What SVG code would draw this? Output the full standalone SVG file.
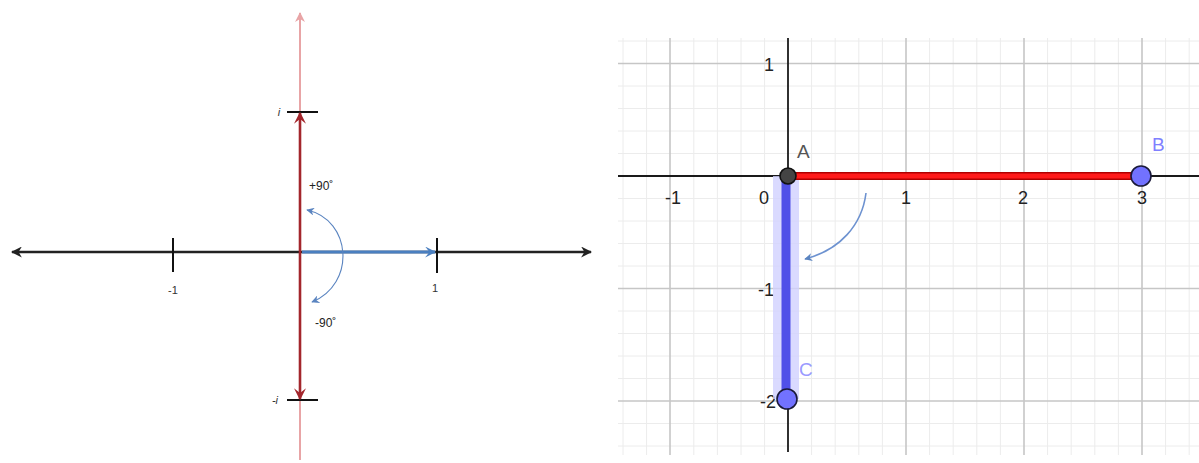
<svg xmlns="http://www.w3.org/2000/svg" width="1199" height="463" viewBox="0 0 1199 463">
<style>
.lbl{font-family:"Liberation Sans",Arial,sans-serif;fill:#333}
.small{font-size:11px}
.deg{font-size:12px;fill:#222}
.ax{font-family:"Liberation Sans",Arial,sans-serif;font-size:18px;fill:#222}
.minor{stroke:#ececec;stroke-width:1}
.major{stroke:#c6c6c6;stroke-width:1.6}
</style>
<defs>
<marker id="ah" viewBox="0 0 10 10" refX="9" refY="5" markerWidth="11" markerHeight="11" markerUnits="userSpaceOnUse" orient="auto-start-reverse">
<path d="M0,0 L10,5 L0,10 L3,5 z" fill="#222"/>
</marker>
<marker id="ahpink" viewBox="0 0 10 10" refX="9" refY="5" markerWidth="10" markerHeight="10" markerUnits="userSpaceOnUse" orient="auto-start-reverse">
<path d="M0,0 L10,5 L0,10 L3,5 z" fill="#e8a4a6"/>
</marker>
<marker id="ahred" viewBox="0 0 10 10" refX="9" refY="5" markerWidth="12" markerHeight="12" markerUnits="userSpaceOnUse" orient="auto-start-reverse">
<path d="M0,0 L10,5 L0,10 L4,5 z" fill="#a3262c"/>
</marker>
<marker id="ahblue" viewBox="0 0 10 10" refX="9" refY="5" markerWidth="11" markerHeight="11" markerUnits="userSpaceOnUse" orient="auto-start-reverse">
<path d="M0,0 L10,5 L0,10 L4,5 z" fill="#4a7fc0"/>
</marker>
<marker id="ahthin" viewBox="0 0 10 10" refX="9" refY="5" markerWidth="8" markerHeight="8" markerUnits="userSpaceOnUse" orient="auto-start-reverse">
<path d="M0,0 L10,5 L0,10 L3,5 z" fill="#5a84c0"/>
</marker>
</defs>
<rect width="1199" height="463" fill="#fff"/>

<!-- LEFT: complex plane -->
<g id="left-axes">
<line x1="300" y1="460" x2="300" y2="13" stroke="#e8a4a6" stroke-width="2" marker-end="url(#ahpink)"/>
<line x1="12" y1="252" x2="591" y2="252" stroke="#222" stroke-width="2.4" marker-start="url(#ah)" marker-end="url(#ah)"/>
<line x1="173" y1="238" x2="173" y2="272" stroke="#111" stroke-width="2"/>
<line x1="437" y1="238" x2="437" y2="273" stroke="#111" stroke-width="2"/>
<line x1="287" y1="112" x2="318" y2="112" stroke="#111" stroke-width="2"/>
<line x1="287" y1="400" x2="318" y2="400" stroke="#111" stroke-width="2"/>
</g>
<g id="left-labels">
<text class="lbl small" x="173" y="294" text-anchor="middle">-1</text>
<text class="lbl small" x="435" y="292" text-anchor="middle">1</text>
<text class="lbl small" x="279" y="116" font-style="italic" text-anchor="middle">i</text>
<text class="lbl small" x="275" y="404" font-style="italic" text-anchor="middle">-i</text>
<text class="lbl deg" x="309" y="190">+90˚</text>
<text class="lbl deg" x="315" y="327">-90˚</text>
</g>
<g id="connectors">
<line x1="300" y1="252" x2="300" y2="113" stroke="#a3262c" stroke-width="2.6" marker-end="url(#ahred)"/>
<line x1="300" y1="252" x2="300" y2="399" stroke="#a3262c" stroke-width="2.6" marker-end="url(#ahred)"/>
<line x1="302" y1="252" x2="435" y2="252" stroke="#4a7fc0" stroke-width="3" marker-end="url(#ahblue)"/>
<path d="M307,210 C352,220 356,284 312,302" fill="none" stroke="#5a84c0" stroke-width="1.1" marker-start="url(#ahthin)" marker-end="url(#ahthin)"/>
</g>

<!-- RIGHT: GeoGebra style grid -->
<g id="grid">
<path class="minor" d="M623,38V455M646.6,38V455M693.8,38V455M717.4,38V455M741,38V455M764.6,38V455M811.6,38V455M835.2,38V455M858.8,38V455M882.4,38V455M929.6,38V455M953.2,38V455M976.8,38V455M1000.4,38V455M1047.6,38V455M1071.2,38V455M1094.8,38V455M1118.4,38V455M1165.6,38V455M1189.2,38V455"/>
<path class="minor" d="M618,41H1199M618,86H1199M618,108.5H1199M618,131H1199M618,153.5H1199M618,198.5H1199M618,221H1199M618,243.5H1199M618,266H1199M618,311H1199M618,333.5H1199M618,356H1199M618,378.5H1199M618,423.5H1199M618,446H1199"/>
<path class="major" d="M670,38V455M906,38V455M1024,38V455M1142,38V455"/>
<path class="major" d="M618,63.5H1199M618,288.5H1199M618,401H1199"/>
<line x1="618" y1="176" x2="1199" y2="176" stroke="#1a1a1a" stroke-width="1.8"/>
<line x1="788" y1="38" x2="788" y2="452" stroke="#1a1a1a" stroke-width="1.8"/>
</g>
<g id="ticks">
<text class="ax" x="673" y="204" text-anchor="middle">-1</text>
<text class="ax" x="764" y="204" text-anchor="middle">0</text>
<text class="ax" x="906" y="204" text-anchor="middle">1</text>
<text class="ax" x="1023" y="204" text-anchor="middle">2</text>
<text class="ax" x="1142" y="204" text-anchor="middle">3</text>
<text class="ax" x="774" y="71" text-anchor="end">1</text>
<text class="ax" x="774" y="296" text-anchor="end">-1</text>
<text class="ax" x="776" y="408" text-anchor="end">-2</text>
</g>
<g id="segment-AC">
<line x1="786" y1="176" x2="786" y2="399" stroke="#d2d2ff" stroke-width="26" opacity="0.8"/>
<line x1="786" y1="176" x2="786" y2="399" stroke="#5050e8" stroke-width="9"/>
</g>
<g id="segment-AB">
<line x1="788" y1="176" x2="1141" y2="176" stroke="#b00000" stroke-width="8"/>
<line x1="788" y1="176" x2="1141" y2="176" stroke="#ff1a1a" stroke-width="5"/>
</g>
<g id="rotation-arrow">
<path d="M866,193 C862,225 840,250 805,259" fill="none" stroke="#6d92d0" stroke-width="1.6" marker-end="url(#ahthin)"/>
</g>
<g id="point-A">
<circle cx="788" cy="176" r="8" fill="#444" stroke="#111" stroke-width="1.6"/>
<text class="ax" x="797" y="158" style="fill:#555;font-size:19px">A</text>
</g>
<g id="point-B">
<circle cx="1141" cy="176" r="10" fill="#7272ff" stroke="#1a1a3a" stroke-width="1.6"/>
<text class="ax" x="1152" y="151" style="fill:#8080ff;font-size:19px">B</text>
</g>
<g id="point-C">
<circle cx="787" cy="399" r="10" fill="#7272ff" stroke="#1a1a3a" stroke-width="1.6"/>
<text class="ax" x="799" y="376" style="fill:#9a9aff;font-size:19px">C</text>
</g>
</svg>
